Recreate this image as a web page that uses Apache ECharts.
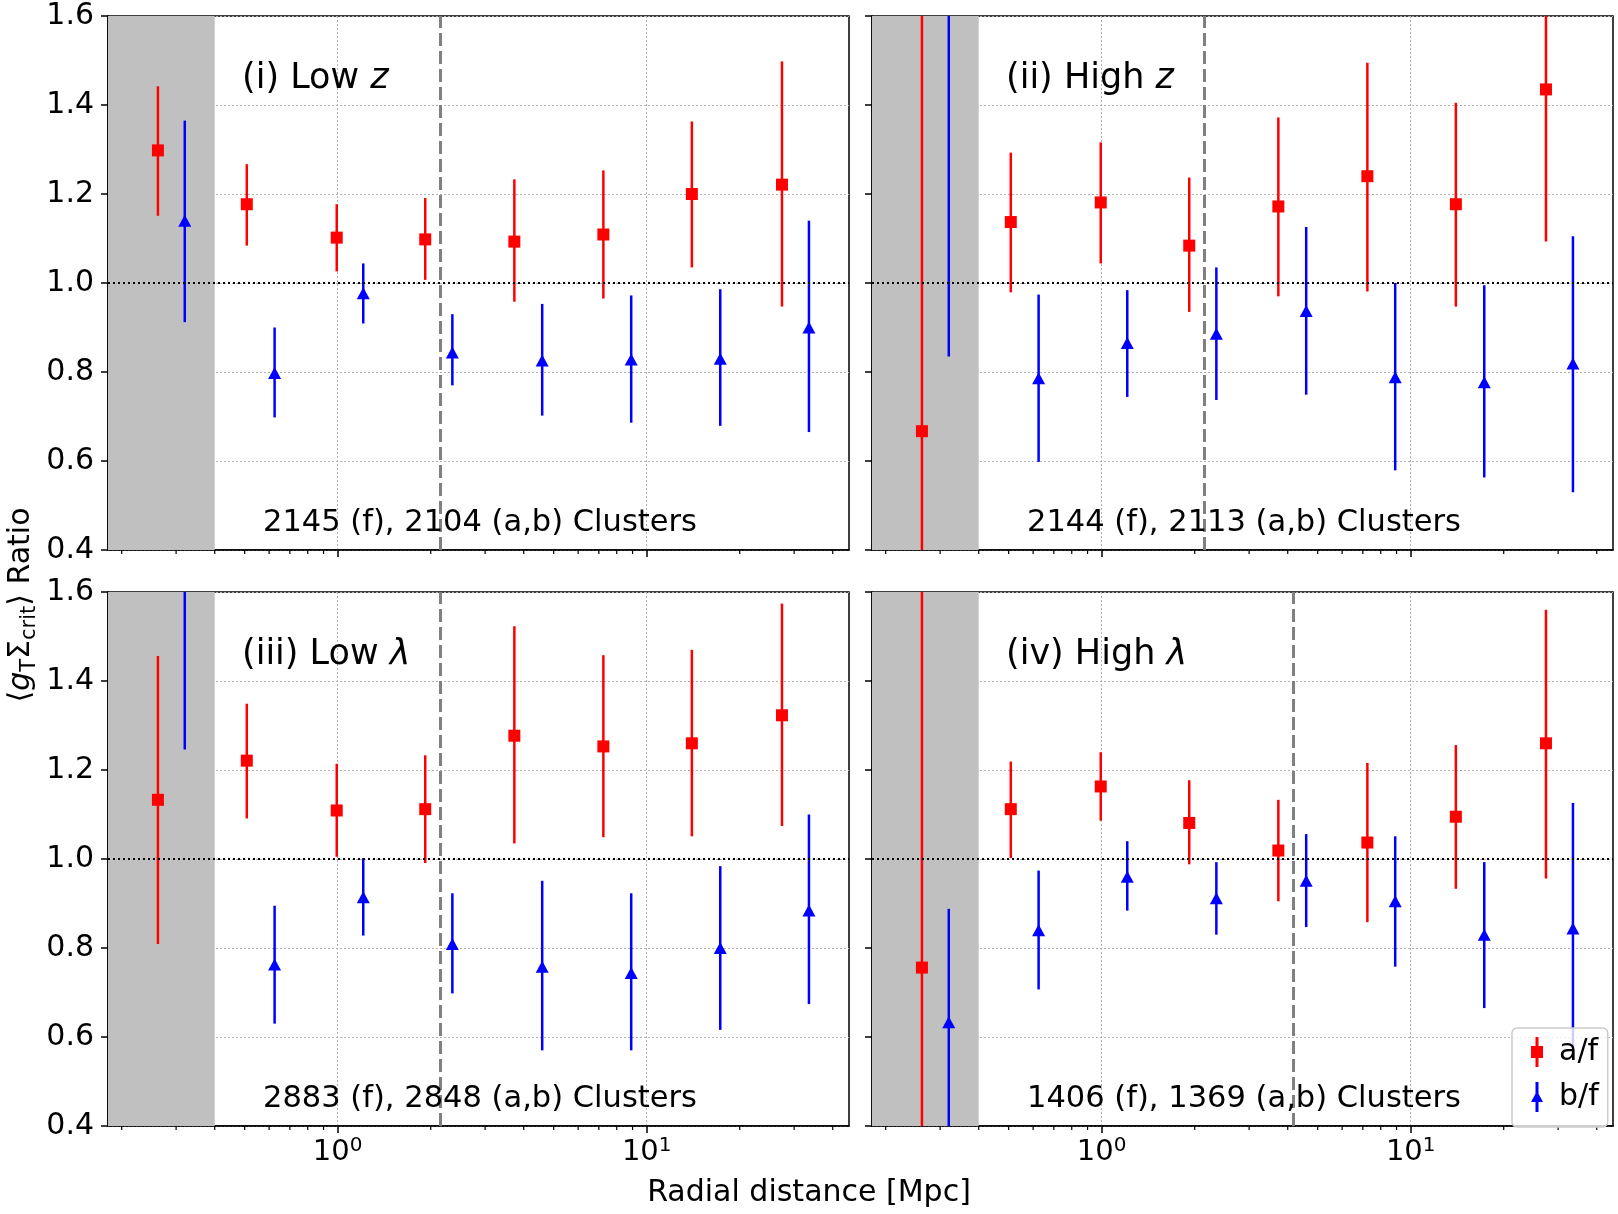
<!DOCTYPE html>
<html>
<head>
<meta charset="utf-8">
<script src="https://cdn.jsdelivr.net/npm/echarts@6/dist/echarts.min.js"></script>
<style>
html, body { margin: 0; padding: 0; background: #fff; }
#chart { width: 1618px; height: 1214px; }
</style>
</head>
<body>
<div id="chart"></div>
<script>
// radial bins (Mpc), red and blue points are offset in x
var xRed = [0.262, 0.508, 0.993, 1.92, 3.73, 7.24, 14.0, 27.4];
var xBlue = [0.32, 0.625, 1.21, 2.35, 4.59, 8.91, 17.3, 33.5];

// (i) Low z
var lowZRed = [1.298, 1.177, 1.102, 1.098, 1.093, 1.109, 1.200, 1.221];
var lowZRedLo = [1.151, 1.084, 1.026, 1.007, 0.958, 0.965, 1.035, 0.947];
var lowZRedHi = [1.442, 1.267, 1.177, 1.191, 1.233, 1.253, 1.363, 1.498];
var lowZBlue = [1.140, 0.798, 0.977, 0.844, 0.826, 0.828, 0.830, 0.900];
var lowZBlueLo = [0.912, 0.698, 0.909, 0.770, 0.702, 0.686, 0.679, 0.665];
var lowZBlueHi = [1.365, 0.900, 1.044, 0.930, 0.953, 0.972, 0.986, 1.140];

// (ii) High z
var highZRed = [0.667, 1.137, 1.181, 1.084, 1.172, 1.240, 1.177, 1.435];
var highZRedLo = [-0.5, 0.979, 1.044, 0.935, 0.970, 0.981, 0.947, 1.093];
var highZRedHi = [1.9, 1.293, 1.316, 1.237, 1.372, 1.495, 1.405, 1.78];
var highZBlue = [1.75, 0.786, 0.865, 0.886, 0.937, 0.788, 0.777, 0.819];
var highZBlueLo = [0.835, 0.598, 0.744, 0.737, 0.749, 0.579, 0.563, 0.530];
var highZBlueHi = [2.6, 0.974, 0.984, 1.035, 1.126, 1.000, 0.995, 1.105];

// (iii) Low lambda
var lowLRed = [1.133, 1.221, 1.109, 1.112, 1.277, 1.253, 1.260, 1.323];
var lowLRedLo = [0.809, 1.091, 1.005, 0.991, 1.035, 1.049, 1.051, 1.074];
var lowLRedHi = [1.456, 1.349, 1.214, 1.233, 1.523, 1.458, 1.470, 1.574];
var lowLBlue = [1.68, 0.763, 0.914, 0.809, 0.758, 0.744, 0.800, 0.884];
var lowLBlueLo = [1.246, 0.630, 0.828, 0.698, 0.570, 0.570, 0.616, 0.674];
var lowLBlueHi = [2.1, 0.895, 1.002, 0.923, 0.951, 0.923, 0.984, 1.100];

// (iv) High lambda
var highLRed = [0.756, 1.112, 1.163, 1.081, 1.019, 1.037, 1.095, 1.260];
var highLRedLo = [-0.4, 1.002, 1.086, 0.988, 0.905, 0.858, 0.933, 0.956];
var highLRedHi = [1.9, 1.219, 1.240, 1.177, 1.133, 1.216, 1.256, 1.560];
var highLBlue = [0.633, 0.840, 0.960, 0.912, 0.951, 0.905, 0.830, 0.844];
var highLBlueLo = [0.37, 0.707, 0.884, 0.830, 0.847, 0.758, 0.665, 0.562];
var highLBlueHi = [0.888, 0.974, 1.040, 0.993, 1.056, 1.051, 0.993, 1.126];

var panelTitles = ['(i) Low {it|z}', '(ii) High {it|z}', '(iii) Low {it|λ}', '(iv) High {it|λ}'];
var panelCounts = ['2145 (f), 2104 (a,b) Clusters', '2144 (f), 2113 (a,b) Clusters',
                   '2883 (f), 2848 (a,b) Clusters', '1406 (f), 1369 (a,b) Clusters'];
var dashedX = [2.14, 2.14, 2.14, 4.16];
var shadeMax = 0.4;

var xMin = 0.1806, xMax = 45.15;
var yMin = 0.4, yMax = 1.6;
var majorTicks = [1, 10];
var minorTicks = [0.2, 0.3, 0.4, 0.5, 0.6, 0.7, 0.8, 0.9, 2, 3, 4, 5, 6, 7, 8, 9, 20, 30, 40];

var FONT = "'DejaVu Sans', sans-serif";
var panels = [
    { red: lowZRed, redLo: lowZRedLo, redHi: lowZRedHi, blue: lowZBlue, blueLo: lowZBlueLo, blueHi: lowZBlueHi },
    { red: highZRed, redLo: highZRedLo, redHi: highZRedHi, blue: highZBlue, blueLo: highZBlueLo, blueHi: highZBlueHi },
    { red: lowLRed, redLo: lowLRedLo, redHi: lowLRedHi, blue: lowLBlue, blueLo: lowLBlueLo, blueHi: lowLBlueHi },
    { red: highLRed, redLo: highLRedLo, redHi: highLRedHi, blue: highLBlue, blueLo: highLBlueLo, blueHi: highLBlueHi }
];
var gridBoxes = [
    { left: 108, top: 16 }, { left: 872, top: 16 },
    { left: 108, top: 592 }, { left: 872, top: 592 }
];
var GW = 741, GH = 534;

function renderErr(params, api) {
    var hi = api.coord([api.value(0), api.value(2)]);
    var lo = api.coord([api.value(0), api.value(1)]);
    return {
        type: 'line',
        shape: { x1: hi[0], y1: hi[1], x2: lo[0], y2: lo[1] },
        style: { stroke: api.visual('color'), lineWidth: 2.5 }
    };
}

function renderMinor(params, api) {
    var p = api.coord([api.value(0), api.value(1)]);
    return {
        type: 'line',
        shape: { x1: p[0], y1: p[1], x2: p[0], y2: p[1] + 4 },
        style: { stroke: '#000', lineWidth: 1.2 }
    };
}

function zip(xs, a, b) {
    var out = [];
    for (var i = 0; i < xs.length; i++) {
        out.push(b ? [xs[i], a[i], b[i]] : [xs[i], a[i]]);
    }
    return out;
}

var grid = [], xAxis = [], yAxis = [], series = [], graphic = [];

for (var i = 0; i < 4; i++) {
    var g = gridBoxes[i];
    var d = panels[i];
    grid.push({ left: g.left, top: g.top, width: GW, height: GH, show: true,
        borderColor: '#000', borderWidth: 1.5, backgroundColor: 'transparent' });

    xAxis.push({
        type: 'log', logBase: 10, gridIndex: i, min: xMin, max: xMax,
        axisLine: { show: true, onZero: false, lineStyle: { color: '#000', width: 1.5 } },
        axisTick: { show: true, inside: false, length: 7, customValues: majorTicks,
            lineStyle: { color: '#000', width: 1.5 } },
        axisLabel: {
            show: i >= 2, customValues: majorTicks, margin: 10,
            formatter: function (v) {
                return '{b|10}{s|' + Math.round(Math.log(v) / Math.LN10) + '}';
            },
            rich: {
                b: { fontSize: 29, lineHeight: 33, fontFamily: FONT, color: '#000' },
                s: { fontSize: 20, lineHeight: 20, verticalAlign: 'top', fontFamily: FONT, color: '#000' }
            }
        },
        splitLine: { show: true, lineStyle: { color: '#b0b0b0', width: 1, type: [2, 2] } }
    });

    yAxis.push({
        type: 'value', gridIndex: i, min: yMin, max: yMax, interval: 0.2,
        axisLine: { show: true, onZero: false, lineStyle: { color: '#000', width: 1.5 } },
        axisTick: { show: true, inside: false, length: 7, lineStyle: { color: '#000', width: 1.5 } },
        axisLabel: { show: i % 2 === 0, fontSize: 30, margin: 14, color: '#000', fontFamily: FONT,
            padding: [4, 0, 0, 0],
            formatter: function (v) { return v.toFixed(1); } },
        splitLine: { show: true, lineStyle: { color: '#b0b0b0', width: 1, type: [2, 2] } }
    });

    // shading, reference lines
    series.push({
        type: 'line', xAxisIndex: i, yAxisIndex: i, data: [], z: 1, silent: true,
        markArea: { silent: true, itemStyle: { color: '#c0c0c0' },
            data: [[{ xAxis: xMin }, { xAxis: shadeMax }]] },
        markLine: { silent: true, symbol: ['none', 'none'], label: { show: false },
            data: [
                { xAxis: dashedX[i], lineStyle: { color: '#808080', width: 3, type: [13, 5] } },
                { yAxis: 1.0, lineStyle: { color: '#000', width: 2, type: [2, 3] } }
            ] }
    });

    series.push({
        type: 'custom', xAxisIndex: i, yAxisIndex: i, clip: false, silent: true, z: 6,
        renderItem: renderMinor, encode: { x: 0, y: 1 },
        data: minorTicks.map(function (v) { return [v, yMin]; })
    });

    series.push({
        type: 'custom', name: 'a/f', xAxisIndex: i, yAxisIndex: i, clip: true, z: 3,
        itemStyle: { color: '#ff0000' }, renderItem: renderErr, encode: { x: 0, y: [1, 2] },
        data: zip(xRed, d.redLo, d.redHi)
    });
    series.push({
        type: 'scatter', name: 'a/f', xAxisIndex: i, yAxisIndex: i, clip: true, z: 4,
        symbol: 'rect', symbolSize: 12, itemStyle: { color: '#ff0000', opacity: 1 },
        data: zip(xRed, d.red)
    });
    series.push({
        type: 'custom', name: 'b/f', xAxisIndex: i, yAxisIndex: i, clip: true, z: 4,
        itemStyle: { color: '#0000ff' }, renderItem: renderErr, encode: { x: 0, y: [1, 2] },
        data: zip(xBlue, d.blueLo, d.blueHi)
    });
    series.push({
        type: 'scatter', name: 'b/f', xAxisIndex: i, yAxisIndex: i, clip: true, z: 5,
        symbol: 'triangle', symbolSize: [13, 12], itemStyle: { color: '#0000ff', opacity: 1 },
        data: zip(xBlue, d.blue)
    });

    graphic.push({
        type: 'text', x: g.left + 134, y: g.top + 63, z: 10, silent: true,
        style: { text: panelTitles[i], fontSize: 35, fontFamily: FONT, fill: '#000',
            align: 'left', verticalAlign: 'middle', textAlign: 'left', textVerticalAlign: 'middle',
            rich: { it: { fontSize: 35, fontStyle: 'italic', fontFamily: FONT, fill: '#000' } } }
    });
    graphic.push({
        type: 'text', x: g.left + 155, y: g.top + 507, z: 10, silent: true,
        style: { text: panelCounts[i], fontSize: 30.5, fontFamily: FONT, fill: '#000',
            align: 'left', verticalAlign: 'middle', textAlign: 'left', textVerticalAlign: 'middle' }
    });
}

graphic.push({
    type: 'text', x: 809, y: 1193, silent: true,
    style: { text: 'Radial distance [Mpc]', fontSize: 30, fontFamily: FONT, fill: '#000',
        align: 'center', verticalAlign: 'middle', textAlign: 'center', textVerticalAlign: 'middle' }
});
graphic.push({
    type: 'text', x: 21, y: 605, rotation: Math.PI / 2, silent: true,
    style: {
        text: '{n|⟨}{gi|g}{sub|T}{n|Σ}{sub|crit}{n|⟩ Ratio}',
        align: 'center', verticalAlign: 'middle', textAlign: 'center', textVerticalAlign: 'middle',
        rich: {
            n: { fontSize: 30, lineHeight: 38, fontFamily: FONT, fill: '#000' },
            gi: { fontSize: 30, lineHeight: 38, fontStyle: 'italic', fontFamily: FONT, fill: '#000' },
            sub: { fontSize: 21, lineHeight: 21, verticalAlign: 'bottom', fontFamily: FONT, fill: '#000' }
        }
    }
});

var iconRed = 'path://M4.5,0h3v9h4.5v12h-4.5v9h-3v-9h-4.5v-12h4.5z';
var iconBlue = 'path://M4.5,0L7.5,0L7.5,11.75L12,20L7.5,20L7.5,30L4.5,30L4.5,20L0,20L4.5,11.75Z';

var option = {
    animation: false,
    backgroundColor: '#fff',
    grid: grid,
    xAxis: xAxis,
    yAxis: yAxis,
    series: series,
    graphic: graphic,
    legend: {
        orient: 'vertical', left: 1512, top: 1028, padding: [9, 9, 15, 19],
        itemGap: 15, itemWidth: 12, itemHeight: 30, selectedMode: false, z: 20,
        backgroundColor: 'rgba(255,255,255,0.8)', borderColor: '#cccccc', borderWidth: 1.5, borderRadius: 5,
        textStyle: { fontSize: 30, fontFamily: FONT, color: '#000', padding: [0, 0, 0, 11] },
        data: [
            { name: 'a/f', icon: iconRed, itemStyle: { color: '#ff0000' } },
            { name: 'b/f', icon: iconBlue, itemStyle: { color: '#0000ff' } }
        ]
    }
};

var chart = echarts.init(document.getElementById('chart'));
chart.setOption(option);
</script>
</body>
</html>
